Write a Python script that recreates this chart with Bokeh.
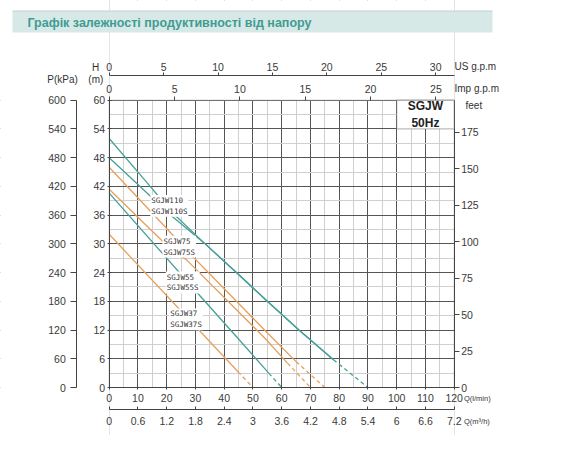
from bokeh.plotting import figure
from bokeh.models import (Range1d, LinearAxis, FixedTicker, Label, BoxAnnotation, Grid,
                          NumeralTickFormatter)
from bokeh.embed import file_html
from bokeh.resources import INLINE

# pump curves, Q in l/min, H in m
q_110 = [0, 13, 22, 33, 45, 55, 66, 78]
h_110 = [52, 42.9, 36.5, 30.2, 23.6, 18.0, 12.0, 5.8]
q_110s = [0, 10, 21, 33, 45, 55, 66, 78]
h_110s = [48, 42.4, 36.2, 30.2, 23.6, 18.0, 12.0, 5.8]
q_110_end = [78, 90]
h_110_end = [5.8, 0]

q_75 = [0, 20, 27, 56, 65]
h_75 = [46, 33.2, 28.6, 10.8, 5.4]
q_75_end = [65, 75]
h_75_end = [5.4, 0]
q_75s = [0, 19, 27, 54, 62]
h_75s = [41.4, 30.3, 26.6, 10.4, 5.1]
q_75s_end = [62, 70]
h_75s_end = [5.1, 0]

q_55 = [0, 30, 44.6, 55.5]
h_55 = [40.6, 20.2, 10.4, 3.0]
q_55_end = [55.5, 60]
h_55_end = [3.0, 0]

q_37 = [0, 44.8]
h_37 = [32, 3.3]
q_37_end = [44.8, 50]
h_37_end = [3.3, 0]

model_labels = ["SGJW110\nSGJW110S", "SGJW75\nSGJW75S", "SGJW55\nSGJW55S", "SGJW37\nSGJW37S"]

# axis ticks
q_ticks = list(range(0, 121, 10))
q_minor = list(range(5, 120, 10))
h_ticks = list(range(0, 61, 6))
h_minor = list(range(3, 60, 6))
kpa_ticks = list(range(0, 601, 60))
feet_ticks = list(range(0, 176, 25))
us_ticks = [0, 5, 10, 15, 20, 25, 30]
imp_ticks = [0, 5, 10, 15, 20, 25]
m3h_ticks = [0, 0.6, 1.2, 1.8, 2.4, 3, 3.6, 4.2, 4.8, 5.4, 6, 6.6, 7.2]

TEAL = "#45a198"
ORANGE = "#e6a05a"
FONT = "Liberation Sans"
TICKFONT = "10.5px"

W, H = 554, 435
# the chart box (Q 0..120, H 0..60) sits at these canvas pixels
PX_L, PX_R, PX_T, PX_B = 108.7, 453.7, 99.7, 387.0
kx = (PX_R - PX_L) / 120
ky = (PX_B - PX_T) / 60
x0, x1 = -PX_L / kx, (W - PX_L) / kx
y0, y1 = -(H - PX_B) / ky, PX_B / ky

p = figure(width=W, height=H, x_range=Range1d(x0, x1), y_range=Range1d(y0, y1),
           x_axis_type=None, y_axis_type=None, output_backend="svg",
           toolbar_location=None, title=None,
           min_border_left=0, min_border_right=0, min_border_top=0, min_border_bottom=0)
p.outline_line_color = None
p.background_fill_color = "white"
p.border_fill_color = "white"

p.extra_x_ranges = {"imp": Range1d(x0 / 4.546, x1 / 4.546), "us": Range1d(x0 / 3.785, x1 / 3.785),
                    "m3h": Range1d(x0 * 0.06, x1 * 0.06)}
p.extra_y_ranges = {"kpa": Range1d(y0 * 10, y1 * 10), "ft": Range1d(y0 * 3.28084, y1 * 3.28084)}

# grid, trimmed to the chart box by white masks
xg = Grid(dimension=0, ticker=FixedTicker(ticks=q_ticks, minor_ticks=q_minor))
yg = Grid(dimension=1, ticker=FixedTicker(ticks=h_ticks, minor_ticks=h_minor))
for g in (xg, yg):
    g.grid_line_color = "#555555"
    g.grid_line_width = 1
    g.minor_grid_line_color = "#cfcfcf"
    p.add_layout(g, "center")

for l, r, b, t in [(x0, 0, y0, y1), (120, x1, y0, y1), (0, 120, 60, y1), (0, 120, y0, 0)]:
    p.add_layout(BoxAnnotation(left=l, right=r, bottom=b, top=t, fill_color="white",
                               fill_alpha=1, line_color=None, level="glyph"))
p.add_layout(BoxAnnotation(left=0, right=120, bottom=0, top=60, fill_alpha=0,
                           line_color="#444444", line_width=1, level="glyph"))


def style(ax, size=TICKFONT):
    ax.axis_line_color = "#444444"
    ax.major_tick_line_color = "#444444"
    ax.minor_tick_line_color = None
    ax.major_label_text_font = FONT
    ax.major_label_text_font_size = size
    ax.major_label_text_color = "#3a3a3a"


# left axes: H (m) and P (kPa)
hax = LinearAxis(ticker=FixedTicker(ticks=h_ticks), fixed_location=0, bounds=(0, 60))
style(hax)
hax.major_tick_in = 2
hax.major_tick_out = 2
hax.major_label_standoff = 2
p.add_layout(hax, "left")

pax = LinearAxis(y_range_name="kpa", ticker=FixedTicker(ticks=kpa_ticks),
                 fixed_location=(84.3 - 116.7) / kx, bounds=(0, 600))
style(pax)
pax.major_tick_in = 0
pax.major_tick_out = 6
pax.major_label_standoff = 5
p.add_layout(pax, "left")

# right axis: feet
fax = LinearAxis(y_range_name="ft", ticker=FixedTicker(ticks=feet_ticks), fixed_location=120,
                 bounds=(0, 60 * 3.28084))
style(fax)
fax.major_tick_in = 0
fax.major_tick_out = 5
fax.major_label_standoff = 2
p.add_layout(fax, "right")

# top axes: Imp g.p.m on the box edge, US g.p.m above it
iax = LinearAxis(x_range_name="imp", ticker=FixedTicker(ticks=imp_ticks), fixed_location=60,
                 bounds=(0, 120 / 4.546))
style(iax)
iax.axis_line_color = None
iax.major_tick_in = 0
iax.major_tick_out = 4
iax.major_label_standoff = 3
p.add_layout(iax, "above")

uax = LinearAxis(x_range_name="us", ticker=FixedTicker(ticks=us_ticks),
                 fixed_location=(395 - 82.5) / ky, bounds=(0, 120 / 3.785))
style(uax)
uax.major_tick_in = 0
uax.major_tick_out = 3
uax.major_label_standoff = 1
p.add_layout(uax, "above")

# bottom axes: Q (l/min) on the box edge, Q (m3/h) below it
qax = LinearAxis(ticker=FixedTicker(ticks=q_ticks), fixed_location=0, bounds=(0, 120))
style(qax)
qax.major_tick_in = 2
qax.major_tick_out = 2
qax.major_label_standoff = 4
p.add_layout(qax, "below")

max_ = LinearAxis(x_range_name="m3h", ticker=FixedTicker(ticks=m3h_ticks),
                  formatter=NumeralTickFormatter(format="0.[0]"),
                  fixed_location=(395 - 417.3) / ky, bounds=(0, 7.2))
style(max_)
max_.major_tick_in = 3
max_.major_tick_out = 0
max_.major_label_standoff = 7
p.add_layout(max_, "below")

# curves
for q, h, c in [(q_110, h_110, TEAL), (q_110s, h_110s, TEAL), (q_55, h_55, TEAL),
                (q_75, h_75, ORANGE), (q_75s, h_75s, ORANGE), (q_37, h_37, ORANGE)]:
    p.line(q, h, line_color=c, line_width=1.3)
for q, h, c in [(q_110_end, h_110_end, TEAL), (q_55_end, h_55_end, TEAL),
                (q_75_end, h_75_end, ORANGE), (q_75s_end, h_75s_end, ORANGE),
                (q_37_end, h_37_end, ORANGE)]:
    p.line(q, h, line_color=c, line_width=1.3, line_dash="4 3")

# model labels
for txt, lx, ly in zip(model_labels, [14.3, 18.5, 19.7, 20.9], [40.2, 31.7, 24.2, 16.5]):
    p.add_layout(Label(x=lx, y=ly, text=txt, text_font="DejaVu Sans Mono", text_font_size="7.5px",
                       text_color="#333333", text_align="left", text_baseline="top",
                       background_fill_color="white", padding=1))

# SGJW box
p.add_layout(BoxAnnotation(left=100, right=120, bottom=54, top=60, fill_color="white",
                           fill_alpha=1, line_color="#222222", line_width=1.3))
p.add_layout(Label(x=110, y=57, text="SGJW\n50Hz", text_font=FONT, text_font_style="bold",
                   text_font_size="12px", text_color="#222222", text_align="center",
                   text_baseline="middle"))

# title band
p.add_layout(BoxAnnotation(left=(20 - 116.7) / kx, right=(500 - 116.7) / kx,
                           bottom=(395 - 40) / ky, top=(395 - 18.3) / ky,
                           fill_color="#d6e9e7", fill_alpha=1, line_color=None))
p.add_layout(BoxAnnotation(left=(20 - 116.7) / kx, right=(500 - 116.7) / kx,
                           bottom=(395 - 19.2) / ky, top=(395 - 18.0) / ky,
                           fill_color="#cbd8d6", fill_alpha=1, line_color=None))
p.add_layout(Label(x=(35 - 116.7) / kx, y=(395 - 30) / ky,
                   text="Графік залежності продуктивності від напору",
                   text_font=FONT, text_font_style="bold", text_font_size="12.5px",
                   text_color="#3f9c92", text_baseline="middle"))

# unit captions (ref pixel positions)
caps = [(103, 75, "H", "center", "10px"), (103.3, 86.7, "(m)", "center", "10px"),
        (70, 86.7, "P(kPa)", "center", "10px"), (462, 74, "US g.p.m", "left", "10px"),
        (462, 96, "Imp g.p.m", "left", "10px"), (473, 113, "feet", "left", "10px"),
        (471.5, 406, "Q(l/min)", "left", "7.5px"), (471.5, 429, "Q(m³/h)", "left", "7.5px")]
for cx, cy, txt, al, fs in caps:
    p.add_layout(Label(x=(cx - 116.7) / kx, y=(395 - cy) / ky, text=txt,
                       text_font=FONT, text_font_size=fs, text_color="#333333",
                       text_align=al, text_baseline="middle"))

open("out.html", "w").write(file_html(p, INLINE))
